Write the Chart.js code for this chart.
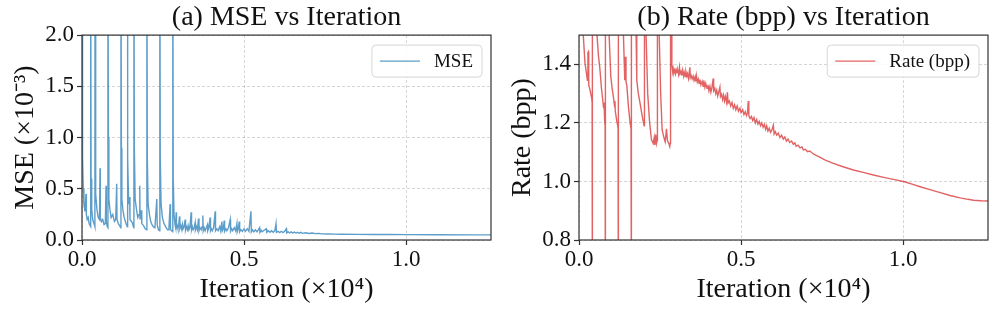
<!DOCTYPE html>
<html>
<head>
<meta charset="utf-8">
<script src="https://cdn.jsdelivr.net/npm/chart.js@4.4.1/dist/chart.umd.min.js"></script>
<style>
  html, body { margin: 0; padding: 0; background: #fff; }
  #wrap { position: relative; width: 997px; height: 314px; }
  #wrap canvas { position: absolute; top: 0; }
</style>
</head>
<body>
<div id="wrap">
  <canvas id="mseChart" width="497" height="314" style="left:0"></canvas>
  <canvas id="rateChart" width="500" height="314" style="left:497px"></canvas>
</div>
<script>
// iterations (x) and readings for panel (a)
const mseIter = [
  0, 10, 25, 40, 60, 90, 124, 135, 160, 190, 220, 250, 266,
  270, 280, 300, 330, 360, 390, 398,
  402, 415, 430, 460, 500, 540, 556, 565, 600, 640, 680, 720, 742, 750, 780, 798,
  802, 815, 830, 860, 900, 950, 1000, 1040, 1071, 1080, 1120, 1160, 1198,
  1202, 1215, 1230, 1260, 1300, 1340, 1370, 1398,
  1402, 1415, 1440, 1473, 1480, 1500, 1550, 1598,
  1602, 1615, 1640, 1680, 1720, 1760, 1783, 1790, 1830, 1840, 1850, 1900, 1950, 1998,
  2002, 2015, 2040, 2080, 2120, 2160, 2200, 2250, 2308, 2320, 2360, 2398,
  2402, 2415, 2440, 2480, 2530, 2580, 2640, 2680, 2719, 2730, 2770, 2798,
  2802, 2815, 2840, 2870, 2890, 2905, 2915, 2940, 2960, 2985, 3008, 3020, 3050,
  3080, 3100, 3120, 3150, 3183, 3195, 3220, 3250, 3275, 3300, 3330, 3368, 3380,
  3405, 3430, 3460, 3492, 3500, 3530, 3560, 3595, 3610, 3640, 3680, 3705, 3729,
  3740, 3770, 3800, 3835, 3872, 3880, 3915, 3955, 3965, 3990, 4020, 4060, 4110,
  4120, 4160, 4200, 4250, 4280, 4316, 4330, 4360, 4388, 4400, 4440, 4470, 4520,
  4573, 4585, 4620, 4650, 4700, 4740, 4780, 4790, 4820, 4852, 4865, 4900, 4950,
  5000, 5050, 5100, 5150, 5213, 5225, 5260, 5300, 5350, 5400, 5440, 5479, 5490,
  5530, 5560, 5620, 5686, 5700, 5750, 5800, 5850, 5900, 5950, 5986, 6000, 6050,
  6100, 6150, 6200, 6250, 6304, 6315, 6360, 6400, 6450, 6500, 6550, 6600, 6650,
  6700, 6750, 6800, 6900, 7000, 7100, 7200, 7300, 7400, 7600, 7800, 8000, 8500,
  9000, 9500, 10000, 11000, 12000, 12620
];
const mseValues = [
  3.0, 2.4, 0.8, 0.5, 0.35, 0.28, 0.45, 0.25, 0.2, 0.22, 0.16, 0.14, 0.13,
  3.0, 0.6, 0.3, 0.2, 0.17, 0.14, 0.13,
  3.0, 1.0, 0.45, 0.3, 0.22, 0.2, 0.7, 0.22, 0.18, 0.2, 0.15, 0.16, 0.53, 0.18, 0.13, 0.12,
  3.0, 1.0, 0.4, 0.3, 0.22, 0.25, 0.18, 0.2, 0.55, 0.2, 0.16, 0.14, 0.12,
  3.0, 0.9, 0.4, 0.3, 0.22, 0.18, 0.15, 0.13,
  3.0, 0.8, 0.35, 0.42, 0.2, 0.19, 0.17, 0.12,
  3.0, 0.9, 0.4, 0.3, 0.22, 0.25, 0.53, 0.2, 0.29, 0.17, 0.16, 0.14, 0.11, 0.1,
  3.0, 0.8, 0.35, 0.25, 0.18, 0.15, 0.13, 0.12, 0.40, 0.15, 0.1, 0.09,
  3.0, 0.8, 0.35, 0.22, 0.16, 0.13, 0.1, 0.1, 0.35, 0.1, 0.09, 0.08,
  3.0, 0.6, 0.25, 0.15, 0.12, 0.27, 0.12, 0.14, 0.11, 0.15, 0.23, 0.11, 0.14,
  0.1, 0.15, 0.11, 0.13, 0.2, 0.1, 0.13, 0.1, 0.14, 0.1, 0.12, 0.27, 0.1,
  0.13, 0.1, 0.12, 0.17, 0.1, 0.13, 0.1, 0.21, 0.09, 0.12, 0.1, 0.13, 0.24,
  0.09, 0.12, 0.09, 0.12, 0.15, 0.09, 0.12, 0.22, 0.09, 0.11, 0.09, 0.12, 0.28,
  0.09, 0.11, 0.09, 0.13, 0.09, 0.18, 0.09, 0.11, 0.19, 0.085, 0.11, 0.09, 0.12,
  0.2, 0.085, 0.11, 0.09, 0.12, 0.09, 0.16, 0.08, 0.11, 0.18, 0.08, 0.1, 0.085,
  0.11, 0.085, 0.11, 0.085, 0.28, 0.08, 0.1, 0.08, 0.1, 0.08, 0.1, 0.12, 0.075,
  0.095, 0.08, 0.095, 0.11, 0.075, 0.09, 0.075, 0.09, 0.075, 0.09, 0.16, 0.075, 0.085,
  0.072, 0.085, 0.072, 0.085, 0.11, 0.07, 0.08, 0.07, 0.08, 0.068, 0.078, 0.068, 0.075,
  0.066, 0.074, 0.065, 0.07, 0.064, 0.068, 0.062, 0.065, 0.06, 0.059, 0.057, 0.056, 0.055,
  0.054, 0.053, 0.052, 0.051, 0.05, 0.05
];

// iterations (x) and readings for panel (b)
const rateIter = [
  0, 60, 135, 186, 230, 259, 275, 290, 300, 341, 392, 405, 410,
  416, 520, 556, 600, 640, 692, 730, 760, 773, 790, 805, 812,
  818, 900, 930, 980, 1020, 1060, 1100, 1110, 1120, 1160, 1195, 1205, 1212,
  1218, 1330, 1371, 1412, 1433, 1450, 1474, 1526, 1577, 1605, 1614,
  1620, 1740, 1762, 1783, 1830, 1886, 1940, 1989, 2010,
  2020, 2040, 2070, 2120, 2180, 2236, 2290, 2320, 2340, 2370, 2390, 2410,
  2420, 2440, 2475, 2520, 2566, 2620, 2660, 2700, 2730, 2770, 2800, 2812,
  2825, 2850, 2865, 2890, 2905, 2930, 2956, 2980, 3000, 3030, 3050, 3075, 3100,
  3120, 3150, 3175, 3200, 3230, 3250, 3280, 3300, 3330, 3350, 3380, 3421, 3435,
  3460, 3490, 3523, 3550, 3580, 3600, 3620, 3650, 3680, 3705, 3730, 3760, 3800,
  3830, 3850, 3884, 3910, 3950, 3980, 4010, 4040, 4070, 4100, 4142, 4155, 4190,
  4220, 4250, 4280, 4310, 4348, 4365, 4400, 4430, 4460, 4490, 4520, 4555, 4580,
  4600, 4640, 4680, 4720, 4760, 4800, 4840, 4880, 4920, 4966, 5000, 5050, 5090,
  5130, 5170, 5200, 5223, 5240, 5280, 5320, 5360, 5400, 5440, 5482, 5520, 5560,
  5600, 5640, 5680, 5720, 5760, 5791, 5830, 5870, 5910, 5950, 5997, 6020, 6060,
  6100, 6150, 6200, 6250, 6304, 6350, 6400, 6450, 6500, 6560, 6613, 6660, 6700,
  6760, 6820, 6880, 6922, 6980, 7050, 7120, 7231, 7300, 7400, 7600, 7849, 8100,
  8467, 8800, 9085, 9400, 9703, 10043, 10300, 10528, 10800, 11146, 11450, 11764, 12000,
  12176, 12400, 12620
];
const rateValues = [
  2.2, 1.6, 1.494, 1.403, 1.37, 1.346, 1.44, 1.443, 1.33, 1.312, 1.284, 1.27, 0.5,
  2.2, 1.7, 1.5, 1.43, 1.39, 1.32, 1.28, 1.25, 1.27, 1.21, 1.19, 0.5,
  2.2, 1.55, 1.5, 1.36, 1.32, 1.29, 1.255, 1.275, 1.24, 1.21, 1.19, 1.18, 0.5,
  2.2, 1.55, 1.5, 1.346, 1.426, 1.34, 1.33, 1.255, 1.2, 1.18, 0.5,
  2.2, 1.55, 1.5, 1.346, 1.3, 1.266, 1.23, 1.2, 1.19,
  2.0, 1.8, 1.5, 1.3, 1.2, 1.142, 1.13, 1.15, 1.125, 1.16, 1.13, 1.14,
  2.0, 1.8, 1.5, 1.3, 1.176, 1.15, 1.135, 1.18, 1.14, 1.13, 1.119, 1.13,
  2.0, 1.6, 1.398, 1.375, 1.386, 1.37, 1.38, 1.368, 1.382, 1.372, 1.378, 1.365, 1.39,
  1.368, 1.376, 1.362, 1.38, 1.36, 1.372, 1.358, 1.375, 1.36, 1.368, 1.352, 1.39, 1.355,
  1.362, 1.35, 1.36, 1.345, 1.356, 1.342, 1.362, 1.34, 1.35, 1.335, 1.348, 1.33, 1.342,
  1.325, 1.345, 1.322, 1.335, 1.318, 1.33, 1.31, 1.325, 1.305, 1.32, 1.352, 1.31, 1.318,
  1.3, 1.312, 1.292, 1.305, 1.322, 1.29, 1.298, 1.28, 1.295, 1.275, 1.29, 1.27, 1.305,
  1.268, 1.275, 1.258, 1.27, 1.25, 1.262, 1.245, 1.258, 1.24, 1.25, 1.235, 1.245, 1.228,
  1.238, 1.225, 1.235, 1.275, 1.225, 1.215, 1.222, 1.208, 1.218, 1.2, 1.212, 1.196, 1.205,
  1.19, 1.2, 1.185, 1.195, 1.178, 1.19, 1.172, 1.182, 1.168, 1.175, 1.192, 1.162, 1.17,
  1.158, 1.165, 1.15, 1.158, 1.145, 1.152, 1.138, 1.145, 1.133, 1.138, 1.127, 1.132, 1.12,
  1.124, 1.115, 1.118, 1.108, 1.11, 1.102, 1.104, 1.094, 1.09, 1.085, 1.073, 1.062, 1.052,
  1.039, 1.03, 1.022, 1.014, 1.007, 0.999, 0.99, 0.982, 0.973, 0.962, 0.952, 0.944, 0.939,
  0.936, 0.934, 0.933
];

const xTicks = [0, 5000, 10000];
const mseTicks = [0, 0.5, 1.0, 1.5, 2.0];
const rateTicks = [0.8, 1.0, 1.2, 1.4];

const SERIF = '"Liberation Serif", "Times New Roman", serif';

// matplotlib-like box around the plot area
const frame = {
  id: 'frame',
  afterDraw(chart) {
    const {ctx, chartArea: a} = chart;
    ctx.save();
    ctx.strokeStyle = '#333';
    ctx.lineWidth = 1.2;
    ctx.strokeRect(a.left, a.top, a.right - a.left, a.bottom - a.top);
    ctx.restore();
  }
};

// legend box in the upper right corner
const boxLegend = {
  id: 'boxLegend',
  afterDatasetsDraw(chart) {
    const {ctx, chartArea} = chart;
    const ds = chart.data.datasets[0];
    ctx.save();
    ctx.font = '19px ' + SERIF;
    const tw = ctx.measureText(ds.label).width;
    const w = 8 + 40 + 14 + tw + 9, h = 32;
    const x = chartArea.right - 9 - w, y = chartArea.top + 10;
    ctx.beginPath();
    ctx.roundRect(x, y, w, h, 4);
    ctx.fillStyle = 'rgba(255,255,255,0.85)';
    ctx.fill();
    ctx.strokeStyle = '#d6d6d6';
    ctx.lineWidth = 1;
    ctx.stroke();
    ctx.beginPath();
    ctx.moveTo(x + 8, y + h / 2);
    ctx.lineTo(x + 48, y + h / 2);
    ctx.strokeStyle = ds.borderColor;
    ctx.lineWidth = 1.3;
    ctx.stroke();
    ctx.fillStyle = '#111';
    ctx.textBaseline = 'middle';
    ctx.fillText(ds.label, x + 62, y + h / 2 + 1);
    ctx.restore();
  }
};

function makeChart(id, cfg) {
  const points = cfg.iters.map((it, i) => ({x: it, y: cfg.values[i]}));
  const gridOpts = {
    color: 'rgba(0,0,0,0.16)',
    lineWidth: 1,
    drawTicks: true,
    tickLength: 5,
    tickColor: '#333',
    tickWidth: 1.2,
    tickBorderDash: []
  };
  return new Chart(document.getElementById(id), {
    type: 'line',
    data: {
      datasets: [{
        label: cfg.label,
        data: points,
        borderColor: cfg.color,
        borderWidth: 1.4,
        pointRadius: 0,
        tension: 0,
        fill: false
      }]
    },
    options: {
      responsive: false,
      animation: false,
      events: [],
      layout: { padding: { left: 0, right: cfg.padRight, top: 0, bottom: 0 } },
      plugins: {
        legend: { display: false },
        tooltip: { enabled: false },
        title: {
          display: true,
          fullSize: false,
          text: cfg.title,
          color: '#111',
          font: { family: SERIF, size: 28, weight: 'normal' },
          padding: { top: 1, bottom: 0.5 }
        }
      },
      scales: {
        x: {
          type: 'linear',
          min: 0,
          max: 12620,
          afterBuildTicks: s => { s.ticks = xTicks.map(v => ({value: v})); },
          afterFit: s => { s.height = 74; },
          ticks: {
            color: '#111',
            padding: 1,
            maxRotation: 0,
            autoSkip: false,
            font: { family: SERIF, size: 23 },
            callback: v => (v / 10000).toFixed(1)
          },
          grid: gridOpts,
          border: { display: false, dash: [3, 2] },
          title: {
            display: true,
            text: 'Iteration (×10⁴)',
            color: '#111',
            font: { family: SERIF, size: 28 },
            padding: { top: 0, bottom: 8 }
          }
        },
        y: {
          min: cfg.yMin,
          max: cfg.yMax,
          afterBuildTicks: s => { s.ticks = cfg.yTicks.map(v => ({value: v})); },
          afterFit: s => { s.width = 82; },
          ticks: {
            color: '#111',
            padding: 3,
            autoSkip: false,
            font: { family: SERIF, size: 23 },
            callback: v => v.toFixed(1)
          },
          grid: gridOpts,
          border: { display: false, dash: [3, 2] },
          title: {
            display: true,
            text: cfg.yTitle,
            color: '#111',
            font: { family: SERIF, size: 28 },
            padding: { top: 9, bottom: 0 }
          }
        }
      }
    },
    plugins: [frame, boxLegend]
  });
}

makeChart('mseChart', {
  iters: mseIter,
  values: mseValues,
  label: 'MSE',
  color: 'rgba(31,119,180,0.72)',
  title: '(a) MSE vs Iteration',
  yTitle: 'MSE (×10⁻³)',
  yMin: 0,
  yMax: 2.0,
  yTicks: mseTicks,
  padRight: 6
});

makeChart('rateChart', {
  iters: rateIter,
  values: rateValues,
  label: 'Rate (bpp)',
  color: 'rgba(214,39,40,0.72)',
  title: '(b) Rate (bpp) vs Iteration',
  yTitle: 'Rate (bpp)',
  yMin: 0.8,
  yMax: 1.5,
  yTicks: rateTicks,
  padRight: 9
});
</script>
</body>
</html>
